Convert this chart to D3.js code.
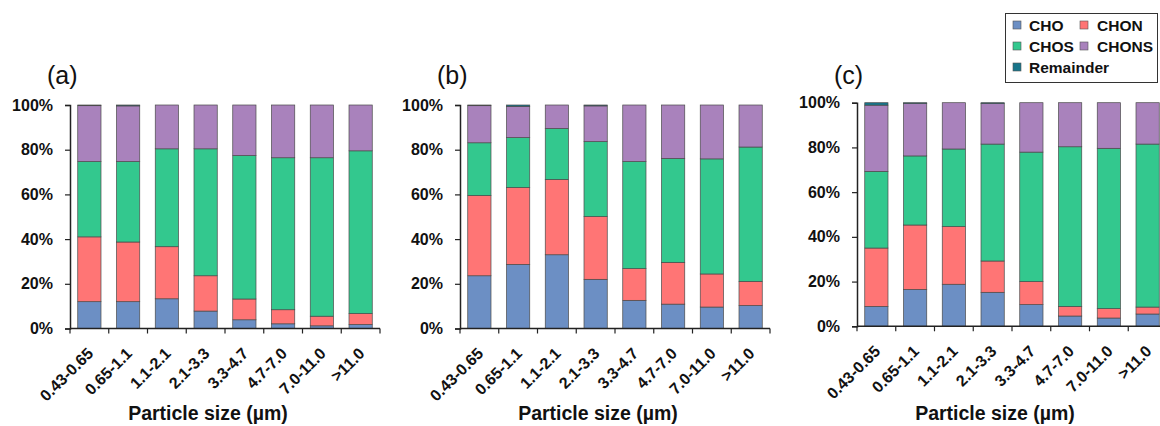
<!DOCTYPE html>
<html>
<head>
<meta charset="utf-8">
<script src="https://cdn.jsdelivr.net/npm/d3@7/dist/d3.min.js"></script>
<style>
  html, body { margin: 0; padding: 0; background: #fff; }
  svg { display: block; }
</style>
</head>
<body>
<svg id="chart" width="1160" height="426"></svg>
<script>
// ---- Data ----
const categories = ["0.43-0.65", "0.65-1.1", "1.1-2.1", "2.1-3.3", "3.3-4.7", "4.7-7.0", "7.0-11.0", ">11.0"];
const seriesNames = ["CHO", "CHON", "CHOS", "CHONS", "Remainder"];
const yTickLabels = ["0%", "20%", "40%", "60%", "80%", "100%"];
const panelLabels = ["(a)", "(b)", "(c)"];
const xAxisTitle = "Particle size (\u00b5m)";

// panel (a)
const a_CHO   = [12.0, 12.0, 13.3, 7.8, 3.9, 2.1, 1.2, 1.8];
const a_CHON  = [29.0, 26.7, 23.3, 15.8, 9.3, 6.3, 4.3, 4.9];
const a_CHOS  = [33.7, 36.0, 43.8, 56.8, 64.2, 68.0, 70.9, 72.8];
const a_CHONS = [25.0, 24.9, 19.6, 19.6, 22.6, 23.6, 23.6, 20.5];
const a_Rem   = [0.3, 0.4, 0, 0, 0, 0, 0, 0];
// panel (b)
const b_CHO   = [23.6, 28.7, 33.0, 22.0, 12.6, 10.9, 9.6, 10.3];
const b_CHON  = [35.9, 34.4, 33.7, 28.1, 14.2, 18.7, 14.8, 10.8];
const b_CHOS  = [23.6, 22.3, 22.8, 33.5, 47.9, 46.5, 51.5, 60.1];
const b_CHONS = [16.6, 14.0, 10.5, 16.0, 25.3, 23.9, 24.1, 18.8];
const b_Rem   = [0.3, 0.6, 0, 0.4, 0, 0, 0, 0];
// panel (c)
const c_CHO   = [8.9, 16.5, 18.8, 15.2, 9.7, 4.6, 3.7, 5.5];
const c_CHON  = [26.1, 28.8, 25.8, 14.0, 10.3, 4.3, 4.2, 3.1];
const c_CHOS  = [34.3, 30.9, 34.7, 52.3, 57.9, 71.4, 71.7, 72.9];
const c_CHONS = [29.6, 23.4, 20.7, 18.1, 22.1, 19.7, 20.4, 18.5];
const c_Rem   = [1.1, 0.4, 0, 0.4, 0, 0, 0, 0];

const colors = ["#6c8fc4", "#ff7575", "#33c88e", "#a982bc", "#17758a"];

// ---- Layout ----
const panels = [
  { label: panelLabels[0], series: [a_CHO, a_CHON, a_CHOS, a_CHONS, a_Rem], x0: 70,  top: 105,   bottom: 328.5, titleX: 47 },
  { label: panelLabels[1], series: [b_CHO, b_CHON, b_CHOS, b_CHONS, b_Rem], x0: 460, top: 105,   bottom: 328.5, titleX: 437 },
  { label: panelLabels[2], series: [c_CHO, c_CHON, c_CHOS, c_CHONS, c_Rem], x0: 857, top: 102.7, bottom: 326.3, titleX: 834 }
];
const panelWidth = 310;
const svg = d3.select("#chart");
const font = "'Liberation Sans', Arial, sans-serif";

panels.forEach(p => {
  const g = svg.append("g");
  const x = d3.scaleBand().domain(categories).range([p.x0, p.x0 + panelWidth]).paddingInner(0.4).paddingOuter(0.2);
  const y = d3.scaleLinear().domain([0, 100]).range([p.bottom, p.top]);

  const rows = categories.map((c, i) => {
    const r = { cat: c };
    seriesNames.forEach((s, k) => r[s] = p.series[k][i]);
    return r;
  });
  const stack = d3.stack().keys(seriesNames)(rows);

  stack.forEach((layer, k) => {
    g.append("g").selectAll("rect").data(layer).join("rect")
      .attr("x", d => x(d.data.cat))
      .attr("width", x.bandwidth())
      .attr("y", d => y(d[1]))
      .attr("height", d => Math.max(0, y(d[0]) - y(d[1])))
      .attr("fill", colors[k])
      .attr("stroke", d => (d[1] - d[0]) > 0 ? "#4a4a4a" : "none")
      .attr("stroke-width", 0.7);
  });

  // Y axis
  const yAxis = d3.axisLeft(y).tickValues([0, 20, 40, 60, 80, 100])
    .tickFormat((d, i) => yTickLabels[i]).tickSize(5).tickPadding(12);
  const ya = g.append("g").attr("transform", `translate(${p.x0},0)`).call(yAxis);
  ya.select(".domain").attr("stroke", "#222").attr("stroke-width", 1.5);
  ya.selectAll(".tick line").attr("stroke", "#222").attr("stroke-width", 1.2);
  ya.selectAll("text").attr("font-family", font).attr("font-weight", "bold")
    .attr("font-size", "16px").attr("fill", "#111");

  // X axis line with ticks at band boundaries
  g.append("line").attr("x1", p.x0).attr("x2", p.x0 + panelWidth)
    .attr("y1", p.bottom).attr("y2", p.bottom).attr("stroke", "#222").attr("stroke-width", 1.5);
  const bounds = d3.range(categories.length + 1).map(i => p.x0 + i * panelWidth / categories.length);
  g.selectAll(".xt").data(bounds).join("line")
    .attr("x1", d => d).attr("x2", d => d)
    .attr("y1", p.bottom).attr("y2", p.bottom + 5)
    .attr("stroke", "#222").attr("stroke-width", 1.2);

  // X tick labels
  g.selectAll(".xl").data(categories).join("text")
    .attr("transform", d => `translate(${x(d) + x.bandwidth() / 2 + 5},${p.bottom + 26}) rotate(-45)`)
    .attr("text-anchor", "end")
    .attr("font-family", font).attr("font-weight", "bold").attr("font-size", "16px")
    .attr("fill", "#111")
    .text(d => d);

  // X axis title
  g.append("text").attr("x", p.x0 + 138).attr("y", 420)
    .attr("text-anchor", "middle")
    .attr("font-family", font).attr("font-weight", "bold").attr("font-size", "19.5px")
    .attr("fill", "#111").text(xAxisTitle);

  // Panel label
  g.append("text").attr("x", p.titleX).attr("y", 84)
    .attr("font-family", font).attr("font-size", "25px").attr("fill", "#111")
    .text(p.label);
});

// ---- Legend ----
const lg = svg.append("g");
lg.append("rect").attr("x", 1005.5).attr("y", 13.5).attr("width", 152).attr("height", 69)
  .attr("fill", "#fff").attr("stroke", "#333").attr("stroke-width", 1);
const legendPos = [
  { sx: 1013, tx: 1029, cy: 25 },
  { sx: 1080, tx: 1097, cy: 25 },
  { sx: 1013, tx: 1029, cy: 46 },
  { sx: 1080, tx: 1097, cy: 46 },
  { sx: 1013, tx: 1029, cy: 67 }
];
seriesNames.forEach((s, k) => {
  const pos = legendPos[k];
  lg.append("rect").attr("x", pos.sx).attr("y", pos.cy - 4).attr("width", 8).attr("height", 8)
    .attr("fill", colors[k]).attr("stroke", "#555").attr("stroke-width", 0.6);
  lg.append("text").attr("x", pos.tx).attr("y", pos.cy).attr("dy", "0.36em")
    .attr("font-family", font).attr("font-weight", "bold").attr("font-size", "15.5px")
    .attr("fill", "#111").text(s);
});
</script>
</body>
</html>
